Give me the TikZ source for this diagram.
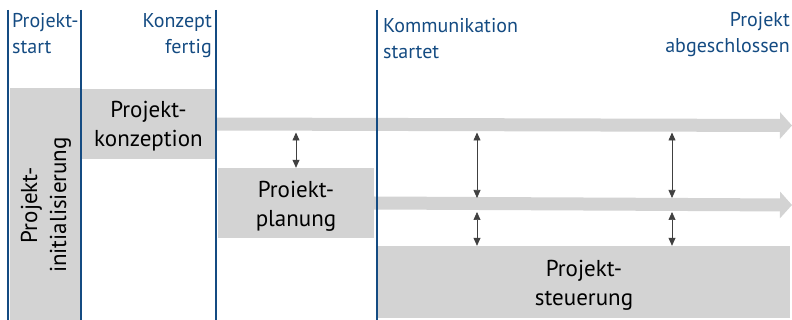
\documentclass[tikz,border=0pt]{standalone}
\usepackage{fontspec}
\setmainfont{PT Sans}
\usetikzlibrary{arrows.meta}
\definecolor{msblue}{RGB}{20,75,130}
\definecolor{boxgray}{RGB}{211,211,211}
\definecolor{linkgray}{RGB}{64,64,64}
\tikzset{
  phase/.style={fill=boxgray,inner sep=0pt,align=center,font=\fontsize{23}{29}\selectfont},
  phasetext/.style={inner sep=0pt,align=center,font=\fontsize{23}{29}\selectfont},
  milestone/.style={text=msblue,inner sep=0pt,font=\fontsize{20}{26}\selectfont},
  flow/.style={draw=boxgray,line width=13pt,-{Triangle[length=12pt,width=26pt]}},
  link/.style={draw=linkgray,line width=0.7pt,{Triangle[length=8pt,width=7pt]}-{Triangle[length=8pt,width=7pt]}},
  timeline/.style={draw=msblue,line width=1.2pt}
}
\begin{document}
\begin{tikzpicture}[x=1pt,y=-1pt]
        \useasboundingbox (0,0) rectangle (792,320);

        % phases
        \node[phase,minimum width=71pt,minimum height=232pt] (init) at (45.5,204) {};
        \node[phasetext,rotate=90] (inittext) at (46,205) {Projekt-\\initialisierung};
        \node[phase,minimum width=133pt,minimum height=70pt] (konz) at (148.5,124) {};
        \node[phasetext] (konztext) at (148.5,126) {Projekt-\\konzeption};
        \node[phase,minimum width=156pt,minimum height=70pt] (plan) at (296,203) {};
        \node[phasetext] (plantext) at (296,206) {Proiekt-\\planung};
        \node[phase,minimum width=412pt,minimum height=72pt] (steu) at (584,282) {};
        \node[phasetext] (steutext) at (584,285) {Projekt-\\steuerung};

        % milestones
        \node[milestone,anchor=north west,align=left] (start) at (12,13) {Projekt-\\start};
        \node[milestone,anchor=north east,align=right] (fertig) at (212,13) {Konzept\\fertig};
        \node[milestone,anchor=north west,align=left] (komm) at (383,18) {Kommunikation\\startet};
        \node[milestone,anchor=north east,align=right] (ende) at (790,12) {Projekt\\abgeschlossen};

        \coordinate (e1) at (792,125.5);
        \coordinate (e2) at (792,205);
        \coordinate (a1) at (296,132.5);
        \coordinate (a2) at (477,132.5);
        \coordinate (a3) at (477,198);
        \coordinate (a4) at (477,212);
        \coordinate (a5) at (672,132.5);
        \coordinate (a6) at (672,198);
        \coordinate (a7) at (672,212);

        \draw[flow] (konz.east) -- (e1);
        \draw[flow] (plan.east) -- (e2);

        \draw[timeline] (8,10) -- (8,320);
        \draw[timeline] (81,10) -- (81,320);
        \draw[timeline] (216,10) -- (216,320);
        \draw[timeline] (377,10) -- (377,320);

        \draw[link] (a1) -- (a1 |- plan.north);
        \draw[link] (a2) -- (a3);
        \draw[link] (a4) -- (a4 |- steu.north);
        \draw[link] (a5) -- (a6);
        \draw[link] (a7) -- (a7 |- steu.north);
    \end{tikzpicture}
\end{document}
